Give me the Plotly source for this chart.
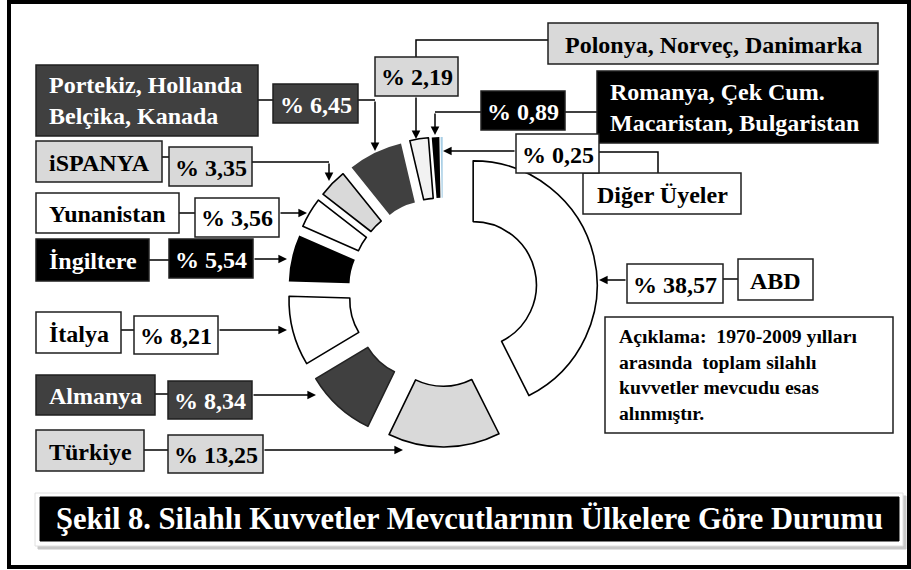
import plotly.graph_objects as go

# ---------------- data ----------------
categories = ["ABD", "Türkiye", "Almanya", "İtalya", "İngiltere", "Yunanistan",
              "İspanya", "Portekiz, Hollanda, Belçika, Kanada",
              "Polonya, Norveç, Danimarka",
              "Romanya, Çek Cum., Macaristan, Bulgaristan", "Diğer Üyeler"]
box_names = ["ABD", "Türkiye", "Almanya", "İtalya", "İngiltere", "Yunanistan",
             "iSPANYA", "Portekiz, Hollanda<br>Belçika, Kanada",
             "Polonya, Norveç, Danimarka",
             "Romanya, Çek Cum.<br>Macaristan, Bulgaristan", "Diğer Üyeler"]
values = [38.57, 13.25, 8.34, 8.21, 5.54, 3.56, 3.35, 6.45, 2.19, 0.89, 0.25]
pct_labels = ["% " + f"{v:.2f}".replace(".", ",") for v in values]

title_text = "Şekil 8. Silahlı Kuvvetler Mevcutlarının Ülkelere Göre Durumu"
note_text = ("Açıklama:  1970-2009 yılları<br>arasında  toplam silahlı<br>"
             "kuvvetler mevcudu esas<br>alınmıştır.")

# ---------------- styles ----------------
W, H = 911, 570
DARK, LIGHT, VLIGHT, BLUE = "#404040", "#d9d9d9", "#f2f2f2", "#a9cfe6"
slice_fill = ["white", LIGHT, DARK, "white", "black", "white", LIGHT, DARK, VLIGHT, "black", BLUE]
slice_line = ["black", "black", "#222222", "black", "black", "black", "black", DARK, "black", "black", BLUE]
slice_lw = [1.6, 1.6, 1.6, 1.6, 0, 1.6, 1.6, 0, 1.6, 0, 0]
box_fill = ["white", LIGHT, DARK, "white", "black", "white", LIGHT, DARK, LIGHT, "black", "white"]
FONT = "Liberation Serif, Times New Roman, serif"

# layout geometry (pixels): name box, pct box, connector polylines, arrow (tail -> head)
name_boxes = [
    (738, 259, 813, 300), (36, 430, 144, 471), (36, 375, 155, 415), (36, 312, 121, 353),
    (36, 239, 149, 281), (36, 193, 179, 233), (36, 141, 162, 182), (36, 65, 258, 136),
    (548, 23, 878, 64), (597, 71, 878, 143), (583, 173, 741, 214)]
pct_boxes = [
    (627, 264, 723, 303), (168, 435, 263, 473), (168, 381, 252, 419), (134, 316, 218, 354),
    (169, 239, 253, 278), (195, 198, 279, 237), (169, 147, 252, 186), (273, 84, 358, 123),
    (375, 57, 458, 96), (481, 91, 565, 130), (516, 134, 599, 173)]
connectors = [
    [(723, 279), (738, 279)],
    [(144, 450), (168, 450)],
    [(155, 394), (168, 394)],
    [(121, 330), (134, 330)],
    [(149, 260), (169, 260)],
    [(179, 213), (195, 213)],
    [(162, 157), (169, 157)],
    [(258, 100), (273, 100)],
    [(548, 40), (416, 40), (416, 57)],
    [(597, 112), (565, 112)],
    [(599, 152), (658, 152), (658, 173)],
]
lead_lines = [
    None, None, None, None, None, None,
    [(252, 162), (329, 162)],
    [(358, 100), (375, 100)],
    None,
    [(481, 112), (435, 112)],
    None,
]
arrows = [
    ((627, 280), (599, 280)),
    ((263, 450), (403, 450)),
    ((252, 395), (316, 395)),
    ((218, 330), (287, 330)),
    ((253, 259), (287, 259)),
    ((279, 213), (307, 213)),
    ((329, 162), (329, 181)),
    ((375, 100), (375, 151)),
    ((416, 96), (416, 139)),
    ((435, 112), (435, 135)),
    ((516, 151), (443, 151)),
]


def px(x):
    return x / W


def py(y):
    return 1 - y / H


shapes, annots = [], []


def rect(x0, y0, x1, y1, fill, line="#1f1f1f", lw=1.5):
    shapes.append(dict(type="rect", xref="paper", yref="paper", x0=px(x0), x1=px(x1),
                       y0=py(y1), y1=py(y0), fillcolor=fill,
                       line=dict(color=line, width=lw), layer="above"))


def poly(points, lw=1.5):
    d = "M " + " L ".join(f"{px(x):.5f},{py(y):.5f}" for x, y in points)
    shapes.append(dict(type="path", xref="paper", yref="paper", path=d,
                       line=dict(color="black", width=lw), layer="above"))


def text(x, y, s, color, size=24, xanchor="center", align="center"):
    annots.append(dict(x=px(x), y=py(y), xref="paper", yref="paper", text=s,
                       showarrow=False, xanchor=xanchor, yanchor="middle", align=align,
                       font=dict(family=FONT, size=size, color=color, weight="bold")))


def arrow(tail, head):
    annots.append(dict(x=px(head[0]), y=py(head[1]), xref="paper", yref="paper",
                       ax=tail[0] - head[0], ay=tail[1] - head[1], text="",
                       showarrow=True, arrowhead=2, arrowsize=1.15, arrowwidth=1.5,
                       arrowcolor="black", standoff=0, startstandoff=0))


# frame
rect(9, 2, 909, 567, "rgba(0,0,0,0)", line="black", lw=4)

for i in range(len(values)):
    tc = "white" if box_fill[i] in (DARK, "black") else "black"
    poly(connectors[i])
    if lead_lines[i]:
        poly(lead_lines[i])
    x0, y0, x1, y1 = name_boxes[i]
    rect(x0, y0, x1, y1, box_fill[i])
    if "<br>" in box_names[i]:
        text(x0 + 11, (y0 + y1) / 2, box_names[i], tc, xanchor="left", align="left")
    else:
        text((x0 + x1) / 2, (y0 + y1) / 2 + 1, box_names[i], tc)
    x0, y0, x1, y1 = pct_boxes[i]
    rect(x0, y0, x1, y1, box_fill[i])
    text((x0 + x1) / 2, (y0 + y1) / 2 + 1, pct_labels[i], tc)
    arrow(*arrows[i])

# note box
rect(605, 317, 893, 433, "white")
text(617, 374, note_text, "black", size=19.7, xanchor="left", align="left")

# title bar
rect(38, 496, 906, 549, "#c8c8c8", line="#c8c8c8", lw=1)
rect(35, 493, 903, 546, "white", line="#e0e0e0", lw=1)
rect(40, 497, 899, 541, "black", line="black", lw=1)
text(469, 519, title_text, "white", size=30.5)

# donut
cx, cy, r, pull = 443, 292, 124, 0.25
half = r * (1 + pull)
fig = go.Figure(go.Pie(
    labels=categories, values=values, sort=False, direction="clockwise", rotation=0,
    hole=0.51, pull=[pull] * len(values), textinfo="none", hoverinfo="label+value",
    marker=dict(colors=slice_fill, line=dict(color=slice_line, width=slice_lw)),
    domain=dict(x=[(cx - half) / W, (cx + half) / W], y=[1 - (cy + half) / H, 1 - (cy - half) / H]),
    showlegend=False,
))
fig.update_layout(width=W, height=H, margin=dict(l=0, r=0, t=0, b=0), autosize=False,
                  paper_bgcolor="white", plot_bgcolor="white",
                  shapes=shapes, annotations=annots)
fig.write_html("out.html", config={"displayModeBar": False},
               post_script="document.body.style.margin='0';document.body.style.overflow='hidden';")
